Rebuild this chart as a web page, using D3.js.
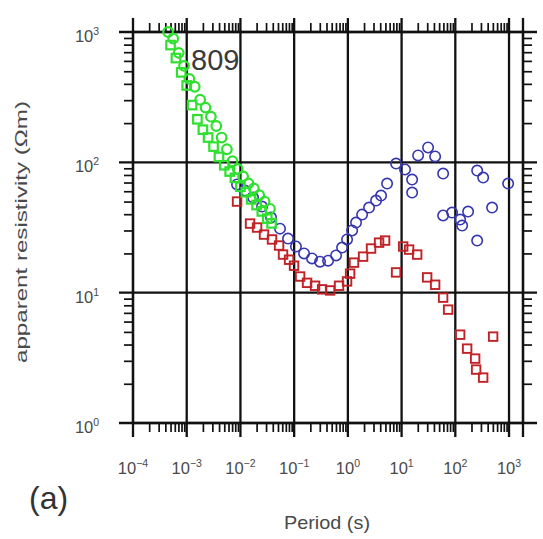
<!DOCTYPE html>
<html>
<head>
<meta charset="utf-8">
<script src="https://cdn.jsdelivr.net/npm/d3@7"></script>
<style>
  html, body { margin: 0; padding: 0; background: #fff; }
  svg { display: block; }
</style>
</head>
<body>
<svg id="chart" width="543" height="539"></svg>
<script>
// ---- data (period in s, apparent resistivity in ohm-m) ----
const stationName = "809";
const xDecadeLabels = ["-4", "-3", "-2", "-1", "0", "1", "2", "3"];
const yDecadeLabels = ["0", "1", "2", "3"];

const greenSqPeriod = [5.0e-4, 6.3e-4, 7.9e-4, 1.0e-3, 1.26e-3, 1.58e-3, 2.0e-3, 2.5e-3, 3.16e-3, 3.98e-3, 5.0e-3, 6.3e-3, 7.9e-3, 1.0e-2, 1.26e-2, 1.58e-2, 2.0e-2, 2.5e-2, 3.16e-2, 3.8e-2];
const greenSqRho    = [794, 631, 490, 389, 275, 214, 178, 155, 132, 110, 95, 85, 76, 65, 59, 52, 47, 42, 37, 34];

const greenCiPeriod = [4.5e-4, 5.6e-4, 7.1e-4, 8.9e-4, 1.12e-3, 1.41e-3, 1.78e-3, 2.24e-3, 2.82e-3, 3.55e-3, 4.47e-3, 5.6e-3, 7.1e-3, 8.9e-3, 1.12e-2, 1.41e-2, 1.78e-2, 2.24e-2, 2.82e-2, 3.55e-2];
const greenCiRho    = [1000, 891, 692, 550, 437, 380, 302, 263, 224, 190, 155, 126, 102, 89, 78, 69, 63, 56, 50, 44];

const bluePeriod = [8.65e-3, 0.0122, 0.0172, 0.0252, 0.0372, 0.0546, 0.0769, 0.108, 0.153, 0.215, 0.303, 0.428, 0.603, 0.780, 0.966, 1.20, 1.42, 1.84, 2.48, 3.35, 4.15, 5.37, 7.90, 11.6, 15.7, 15.7, 20.3, 31.1, 42.1, 59.3, 59.3, 87.1, 123, 173, 134, 255, 330, 484, 255, 962];
const blueRho    = [67.6, 60.8, 53.7, 45.8, 37.7, 31.0, 26.0, 22.6, 20.0, 18.3, 17.3, 17.6, 19.3, 22.2, 25.6, 30.0, 34.5, 39.7, 45.0, 50.9, 55.6, 68.7, 97.9, 88.1, 73.8, 58.6, 113, 130, 111, 82.0, 39.1, 41.2, 36.4, 41.9, 32.7, 86.5, 76.4, 45.0, 25.1, 68.7];

const redPeriod = [8.65e-3, 0.0151, 0.0204, 0.0275, 0.0387, 0.0524, 0.0621, 0.0804, 0.0995, 0.129, 0.174, 0.245, 0.331, 0.467, 0.685, 0.966, 1.10, 1.30, 1.92, 2.70, 3.81, 4.93, 7.90, 10.7, 13.8, 19.5, 29.9, 42.1, 59.3, 73.5, 123, 166, 234, 244, 330, 506];
const redRho    = [50.0, 33.9, 31.6, 27.9, 25.6, 23.0, 19.6, 17.9, 16.1, 13.3, 11.9, 11.3, 10.6, 10.4, 11.3, 12.2, 14.0, 17.0, 18.9, 21.8, 24.2, 25.1, 14.3, 22.6, 21.4, 19.6, 13.1, 11.5, 9.16, 7.41, 4.76, 3.72, 3.12, 2.57, 2.23, 4.60];

// ---- layout ----
const L = 133, R = 523, T = 32, B = 423;
const svg = d3.select("#chart");
const x = d3.scaleLog().domain([1e-4, 1820]).range([L, R]);
const y = d3.scaleLog().domain([1, 1000]).range([B, T]);

const majorX = xDecadeLabels.map(e => Math.pow(10, +e));
const majorY = yDecadeLabels.map(e => Math.pow(10, +e));
const minorX = [];
for (let e = -4; e <= 3; e++) for (let m = 2; m <= 9; m++) { const v = m * Math.pow(10, e); if (v <= 1820) minorX.push(v); }
const minorY = [];
for (let e = 0; e < 3; e++) for (let m = 2; m <= 9; m++) minorY.push(m * Math.pow(10, e));

const ink = "#111";

function styleAxis(g, w) {
  g.select(".domain").remove();
  g.selectAll("line").attr("stroke", ink).attr("stroke-width", w);
}

// minor ticks (outward)
svg.append("g").attr("transform", `translate(0,${B})`)
  .call(d3.axisBottom(x).tickValues(minorX).tickSize(9).tickFormat(""))
  .call(g => styleAxis(g, 1.7));
svg.append("g").attr("transform", `translate(0,${T})`)
  .call(d3.axisTop(x).tickValues(minorX).tickSize(9).tickFormat(""))
  .call(g => styleAxis(g, 1.7));
svg.append("g").attr("transform", `translate(${L},0)`)
  .call(d3.axisLeft(y).tickValues(minorY).tickSize(9).tickFormat(""))
  .call(g => styleAxis(g, 1.7));
svg.append("g").attr("transform", `translate(${R},0)`)
  .call(d3.axisRight(y).tickValues(minorY).tickSize(9).tickFormat(""))
  .call(g => styleAxis(g, 1.7));

// major grid lines extending beyond the frame
const ext = 14;
svg.append("g").selectAll("line").data(majorX).join("line")
  .attr("x1", d => x(d)).attr("x2", d => x(d))
  .attr("y1", T - ext).attr("y2", B + ext)
  .attr("stroke", ink).attr("stroke-width", 2.3);
svg.append("g").selectAll("line").data(majorY).join("line")
  .attr("y1", d => y(d)).attr("y2", d => y(d))
  .attr("x1", L - ext).attr("x2", R + ext)
  .attr("stroke", ink).attr("stroke-width", 2.3);

// frame
svg.append("rect").attr("x", L).attr("y", T).attr("width", R - L).attr("height", B - T)
  .attr("fill", "none").attr("stroke", ink).attr("stroke-width", 2.3);
svg.append("line").attr("x1", R).attr("x2", R).attr("y1", T - ext).attr("y2", B + ext)
  .attr("stroke", ink).attr("stroke-width", 2.3);

// tick labels
const labelColor = "#4a4a4a";
const fam = "'Liberation Sans', Arial, sans-serif";
const xl = svg.append("g").selectAll("text").data(xDecadeLabels).join("text")
  .attr("x", d => x(Math.pow(10, +d)))
  .attr("y", 474)
  .attr("text-anchor", "middle")
  .attr("font-family", fam).attr("font-size", 16.5).attr("fill", labelColor);
xl.append("tspan").text("10");
xl.append("tspan").attr("dy", -7).attr("font-size", 10.5).text(d => d === "0" || +d > 0 ? d : "\u2212" + d.slice(1));

const yl = svg.append("g").selectAll("text").data(yDecadeLabels).join("text")
  .attr("x", 87)
  .attr("y", d => y(Math.pow(10, +d)) + 10)
  .attr("text-anchor", "middle")
  .attr("font-family", fam).attr("font-size", 16.5).attr("fill", labelColor);
yl.append("tspan").text("10");
yl.append("tspan").attr("dy", -7).attr("font-size", 10.5).text(d => d);

// axis titles
svg.append("text").attr("transform", "translate(27,232) rotate(-90)")
  .attr("text-anchor", "middle").attr("font-family", fam).attr("font-size", 17)
  .attr("textLength", 262).attr("lengthAdjust", "spacingAndGlyphs")
  .attr("fill", labelColor).text("apparent resistivity (\u03A9m)");
svg.append("text").attr("x", 327).attr("y", 529)
  .attr("text-anchor", "middle").attr("font-family", fam).attr("font-size", 19)
  .attr("textLength", 86).attr("lengthAdjust", "spacingAndGlyphs")
  .attr("fill", labelColor).text("Period (s)");
svg.append("text").attr("x", 29).attr("y", 509)
  .attr("font-family", fam).attr("font-size", 32)
  .attr("fill", "#333").text("(a)");

// station label
svg.append("text").attr("x", 191).attr("y", 70)
  .attr("font-family", fam).attr("font-size", 29)
  .attr("fill", "#3a3a3a").text(stationName);

// ---- marks ----
const plot = svg.append("g");
function squares(px, py, color, size, sw) {
  plot.append("g").selectAll("rect").data(px.map((p, i) => [p, py[i]])).join("rect")
    .attr("x", d => x(d[0]) - size / 2).attr("y", d => y(d[1]) - size / 2)
    .attr("width", size).attr("height", size)
    .attr("fill", "none").attr("stroke", color).attr("stroke-width", sw);
}
function circles(px, py, color, r, sw) {
  plot.append("g").selectAll("circle").data(px.map((p, i) => [p, py[i]])).join("circle")
    .attr("cx", d => x(d[0])).attr("cy", d => y(d[1])).attr("r", r)
    .attr("fill", "none").attr("stroke", color).attr("stroke-width", sw);
}
squares(redPeriod, redRho, "#bf2328", 8.5, 1.9);
circles(bluePeriod, blueRho, "#3636ae", 5.2, 1.6);
squares(greenSqPeriod, greenSqRho, "#2fe02f", 8.5, 2.2);
circles(greenCiPeriod, greenCiRho, "#2fe02f", 4.8, 2.2);
</script>
</body>
</html>
